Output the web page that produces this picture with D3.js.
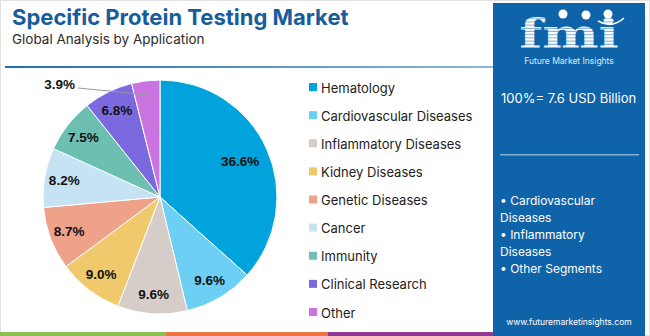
<!DOCTYPE html>
<html>
<head>
<meta charset="utf-8">
<script src="https://cdn.jsdelivr.net/npm/d3@7"></script>
<style>
  html, body { margin: 0; padding: 0; background: #fff; }
  svg { display: block; }
</style>
</head>
<body>
<svg id="chart" width="650" height="336"></svg>
<script>
// Application segments and their share of the market (%)
const categories = ["Hematology", "Cardiovascular Diseases", "Inflammatory Diseases", "Kidney Diseases",
  "Genetic Diseases", "Cancer", "Immunity", "Clinical Research", "Other"];
const shares = [36.6, 9.6, 9.6, 9.0, 8.7, 8.2, 7.5, 6.8, 3.9];
const colors = ["#00a3dc", "#6ccff3", "#d6ccc8", "#f0c96c", "#eea28a", "#c6e3f4", "#6cbfb1", "#7b69e0", "#c974e1"];
const marketTotal = "100%= 7.6 USD Billion";
const keySegments = ["• Cardiovascular", "Diseases", "• Inflammatory", "Diseases", "• Other Segments"];

const svg = d3.select("#chart");
const W = 650, H = 336;
const sans = "Inter, 'Open Sans', sans-serif";
const bold = "'Liberation Sans', Arial, sans-serif";

// frame
svg.append("rect").attr("x", 0.5).attr("y", 0.5).attr("width", W - 1).attr("height", H - 1)
  .attr("fill", "#fff").attr("stroke", "#e2e2e2");

// title block
svg.append("text").attr("x", 12).attr("y", 25)
  .attr("font-family", sans).attr("font-weight", 700).attr("font-size", 22)
  .attr("fill", "#175c9b").text("Specific Protein Testing Market");
svg.append("text").attr("x", 12).attr("y", 44)
  .attr("font-family", sans).attr("font-size", 13.5)
  .attr("fill", "#2a2a2a").text("Global Analysis by Application");

// header rule with fading blue
const defs = svg.append("defs");
const g1 = defs.append("linearGradient").attr("id", "rule").attr("x1", 0).attr("x2", 1);
g1.append("stop").attr("offset", 0).attr("stop-color", "#1f6fb0");
g1.append("stop").attr("offset", 1).attr("stop-color", "#8fb6d6");
svg.append("rect").attr("x", 5).attr("y", 66).attr("width", 488).attr("height", 2).attr("fill", "url(#rule)");

// bottom colour strip
const strip = [["#8cc152", 0, 166], ["#ec7445", 166, 328], ["#8e3b94", 328, 493]];
svg.selectAll("rect.strip").data(strip).join("rect").attr("class", "strip")
  .attr("x", d => d[1]).attr("y", 332).attr("width", d => d[2] - d[1]).attr("height", 4)
  .attr("fill", d => d[0]);

// pie
const cx = 160, cy = 197, R = 117;
const pie = d3.pie().sort(null).value(d => d);
const arcs = pie(shares);
const arc = d3.arc().innerRadius(0).outerRadius(R);
const gPie = svg.append("g").attr("transform", `translate(${cx},${cy})`);
gPie.selectAll("path").data(arcs).join("path")
  .attr("d", arc).attr("fill", (d, i) => colors[i])
  .attr("stroke", "#fff").attr("stroke-width", 1);

// value labels: the dominant slice sits a bit further in
const labelPos = d => {
  const r = R * (d.data > 20 ? 0.75 : 0.83);
  return d3.arc().innerRadius(r).outerRadius(r).centroid(d);
};
const last = arcs.length - 1;
gPie.selectAll("text.val").data(arcs.filter((d, i) => i !== last)).join("text").attr("class", "val")
  .attr("transform", d => `translate(${labelPos(d)})`)
  .attr("text-anchor", "middle").attr("dy", "0.35em")
  .attr("font-family", bold).attr("font-weight", 700)
  .attr("font-size", 13.5).attr("fill", "#111")
  .text(d => d.data.toFixed(1) + "%");

// small slice labelled outside with a leader line
const small = arcs[last];
const mid = (small.startAngle + small.endAngle) / 2;
const edge = [Math.sin(mid) * (R - 14), -Math.cos(mid) * (R - 14)];
gPie.append("path")
  .attr("d", `M${edge[0]},${edge[1]} L${78 - cx},${88 - cy}`)
  .attr("stroke", "#999").attr("stroke-width", 1).attr("fill", "none");
gPie.append("text").attr("x", 75 - cx).attr("y", 89 - cy)
  .attr("text-anchor", "end")
  .attr("font-family", bold).attr("font-weight", 700)
  .attr("font-size", 13.5).attr("fill", "#111")
  .text(small.data.toFixed(1) + "%");

// legend
const ly = d3.scalePoint().domain(categories).range([88, 313]);
const legend = svg.append("g");
const items = legend.selectAll("g").data(categories).join("g")
  .attr("transform", d => `translate(309,${ly(d)})`);
items.append("rect").attr("x", 0).attr("y", -5).attr("width", 8).attr("height", 8)
  .attr("fill", (d, i) => colors[i]);
items.append("text").attr("x", 12).attr("y", 0).attr("dy", "0.35em")
  .attr("font-family", sans).attr("font-size", 13).attr("fill", "#222").text(d => d);

// side panel
const px = 493, pw = 152;
svg.append("rect").attr("x", px).attr("y", 3).attr("width", pw).attr("height", H - 3).attr("fill", "#0f63a8");

// logo: striped letters
const stripes = defs.append("pattern").attr("id", "stripes").attr("patternUnits", "userSpaceOnUse")
  .attr("width", 4).attr("height", 3.2);
stripes.append("rect").attr("width", 4).attr("height", 3.2).attr("fill", "#ffffff");
stripes.append("rect").attr("y", 2.2).attr("width", 4).attr("height", 1).attr("fill", "#7fa9d0");
svg.append("text").attr("transform", "translate(569,48) scale(1.3,1)").attr("text-anchor", "middle")
  .attr("font-family", "'DejaVu Serif', serif").attr("font-weight", 700).attr("font-size", 41)
  .attr("fill", "url(#stripes)").text("fmi");
// small icons above the letters
const icons = [[563, 14], [586, 15], [608, 14]];
svg.selectAll("circle.icon").data(icons).join("circle").attr("class", "icon")
  .attr("cx", d => d[0]).attr("cy", d => d[1]).attr("r", 4.5).attr("fill", "#fff");
svg.append("path").attr("d", "M598,21 Q612,29 624,18").attr("stroke", "#fff").attr("stroke-width", 1.5).attr("fill", "none");
svg.append("text").attr("x", 569).attr("y", 64).attr("text-anchor", "middle")
  .attr("font-family", sans).attr("font-size", 8.5).attr("fill", "#dfe9f4").text("Future Market Insights");

svg.append("text").attr("x", 501).attr("y", 103)
  .attr("font-family", sans).attr("font-size", 13).attr("fill", "#fff").text(marketTotal);
svg.append("rect").attr("x", 500).attr("y", 154).attr("width", 139).attr("height", 1.5).attr("fill", "#7fb0da");

svg.selectAll("text.seg").data(keySegments).join("text").attr("class", "seg")
  .attr("x", 500).attr("y", (d, i) => 205 + i * 17)
  .attr("font-family", sans).attr("font-size", 12).attr("fill", "#fff").text(d => d);

svg.append("text").attr("x", 569).attr("y", 325).attr("text-anchor", "middle")
  .attr("font-family", sans).attr("font-size", 8.5).attr("fill", "#fff").text("www.futuremarketinsights.com");
</script>
</body>
</html>
